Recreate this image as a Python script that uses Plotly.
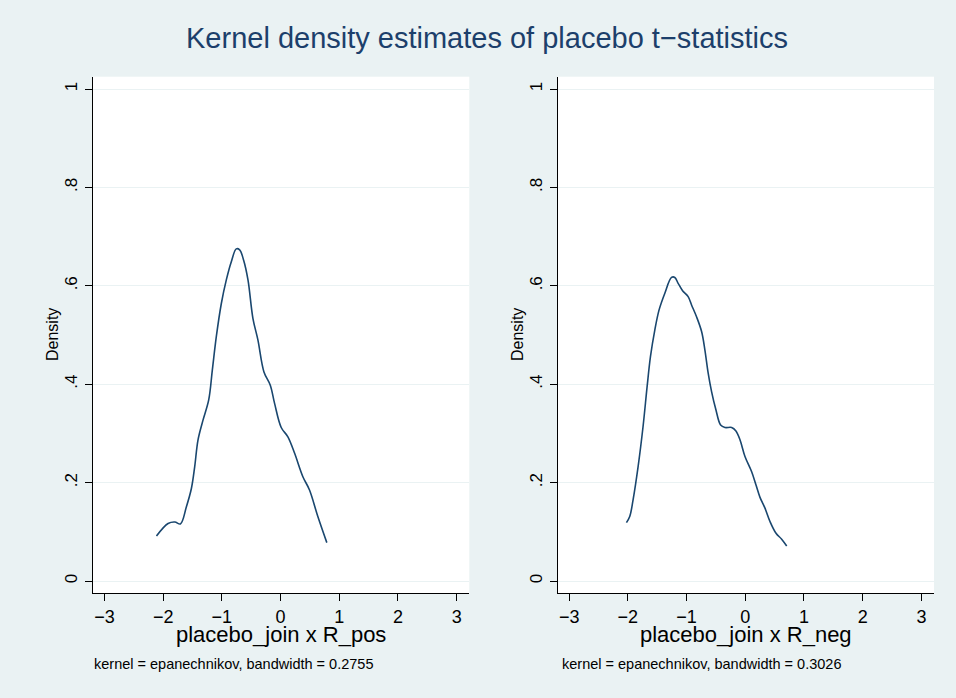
import plotly.graph_objects as go

# ---- data ----
pos_x = [-2.114, -1.916, -1.80, -1.706, -1.604, -1.519, -1.463, -1.406, -1.321, -1.224,
         -1.162, -1.094, -1.009, -0.924, -0.839, -0.754, -0.697, -0.629, -0.555, -0.471,
         -0.386, -0.283, -0.175, -0.102, 0.011, 0.125, 0.238, 0.380, 0.493, 0.635, 0.788]
pos_y = [0.0915, 0.117, 0.120, 0.116, 0.151, 0.188, 0.232, 0.287, 0.327, 0.368,
         0.429, 0.497, 0.564, 0.612, 0.649, 0.675, 0.673, 0.652, 0.612, 0.534,
         0.490, 0.425, 0.398, 0.361, 0.312, 0.293, 0.260, 0.212, 0.185, 0.131, 0.078]

neg_x = [-2.024, -1.968, -1.911, -1.826, -1.741, -1.672, -1.615, -1.541, -1.468, -1.370,
         -1.256, -1.200, -1.143, -1.068, -0.973, -0.915, -0.830, -0.744, -0.688, -0.631,
         -0.574, -0.500, -0.420, -0.346, -0.232, -0.159, -0.090, -0.005, 0.109, 0.183,
         0.251, 0.336, 0.421, 0.524, 0.620, 0.706]
neg_y = [0.1186, 0.131, 0.165, 0.232, 0.314, 0.395, 0.456, 0.510, 0.551, 0.585,
         0.617, 0.617, 0.605, 0.590, 0.578, 0.561, 0.537, 0.507, 0.470, 0.422,
         0.385, 0.348, 0.317, 0.312, 0.312, 0.305, 0.287, 0.253, 0.222, 0.195,
         0.170, 0.148, 0.121, 0.097, 0.085, 0.071]

x_ticks = [-3, -2, -1, 0, 1, 2, 3]
y_ticks = [0, 0.2, 0.4, 0.6, 0.8, 1]
y_ticktext = ["0", ".2", ".4", ".6", ".8", "1"]

title_text = "Kernel density estimates of placebo t\u2212statistics"
x_titles = ["placebo_join x R_pos", "placebo_join x R_neg"]
notes = ["kernel = epanechnikov, bandwidth = 0.2755",
         "kernel = epanechnikov, bandwidth = 0.3026"]

W, H = 956, 698
FONT = "Liberation Sans, Arial, sans-serif"
NAVY = "#1A476F"
TITLE_COLOR = "#1C3F6B"
BG = "#EAF2F3"

fig = go.Figure()
fig.add_trace(go.Scatter(x=pos_x, y=pos_y, mode="lines", line=dict(color=NAVY, width=1.6),
                         line_shape="spline", xaxis="x", yaxis="y", showlegend=False))
fig.add_trace(go.Scatter(x=neg_x, y=neg_y, mode="lines", line=dict(color=NAVY, width=1.6),
                         line_shape="spline", xaxis="x2", yaxis="y2", showlegend=False))

xdom = [[93 / W, 469.3 / W], [557.7 / W, 934 / W]]
ydom = [1 - 593.3 / H, 1 - 76.7 / H]

def xaxis(i):
    return dict(domain=xdom[i], range=[-3.195, 3.215], tickvals=x_ticks,
                showgrid=False, zeroline=False, showline=True, linecolor="#000000",
                linewidth=1, ticks="outside", ticklen=7, tickcolor="#000000",
                tickfont=dict(family=FONT, size=18, color="#000000"),
                ticklabelstandoff=0,
                anchor="y" if i == 0 else "y2", fixedrange=True)

def yaxis(i):
    return dict(domain=ydom, range=[-0.025, 1.025], tickvals=y_ticks, ticktext=y_ticktext,
                tickangle=-90, showgrid=True, gridcolor=BG, gridwidth=1.2, zeroline=False,
                showline=True, linecolor="#000000", linewidth=1, ticks="outside",
                ticklen=7, tickcolor="#000000",
                tickfont=dict(family=FONT, size=17, color="#000000"),
                ticklabelstandoff=1,
                anchor="x" if i == 0 else "x2", fixedrange=True)

annotations = [dict(text=title_text, x=487 / W, y=1 - 38 / H, xref="paper", yref="paper",
                    showarrow=False, xanchor="center", yanchor="middle",
                    font=dict(family=FONT, size=29, color=TITLE_COLOR))]
for i in range(2):
    cx = (xdom[i][0] + xdom[i][1]) / 2
    annotations.append(dict(text=x_titles[i], x=cx, y=1 - 634 / H, xref="paper", yref="paper",
                            showarrow=False, xanchor="center", yanchor="middle",
                            font=dict(family=FONT, size=22, color="#000000")))
    annotations.append(dict(text=notes[i], x=xdom[i][0] - 1 / W if i == 0 else xdom[i][0] + 2 / W,
                            y=1 - 664 / H, xref="paper", yref="paper",
                            showarrow=False, xanchor="left", yanchor="middle",
                            font=dict(family=FONT, size=14.5, color="#000000")))
    annotations.append(dict(text="Density", x=(52 if i == 0 else 517) / W,
                            y=(ydom[0] + ydom[1]) / 2, xref="paper", yref="paper",
                            showarrow=False, xanchor="center", yanchor="middle", textangle=-90,
                            font=dict(family=FONT, size=16, color="#000000")))

fig.update_layout(width=W, height=H, margin=dict(l=0, r=0, t=0, b=0),
                  paper_bgcolor=BG, plot_bgcolor="#FFFFFF",
                  xaxis=xaxis(0), xaxis2=xaxis(1), yaxis=yaxis(0), yaxis2=yaxis(1),
                  annotations=annotations, showlegend=False)

fig.write_html("out.html", config={"displayModeBar": False},
               post_script="document.body.style.margin='0';document.body.style.padding='0';"
                           "document.body.style.background='#EAF2F3';")
